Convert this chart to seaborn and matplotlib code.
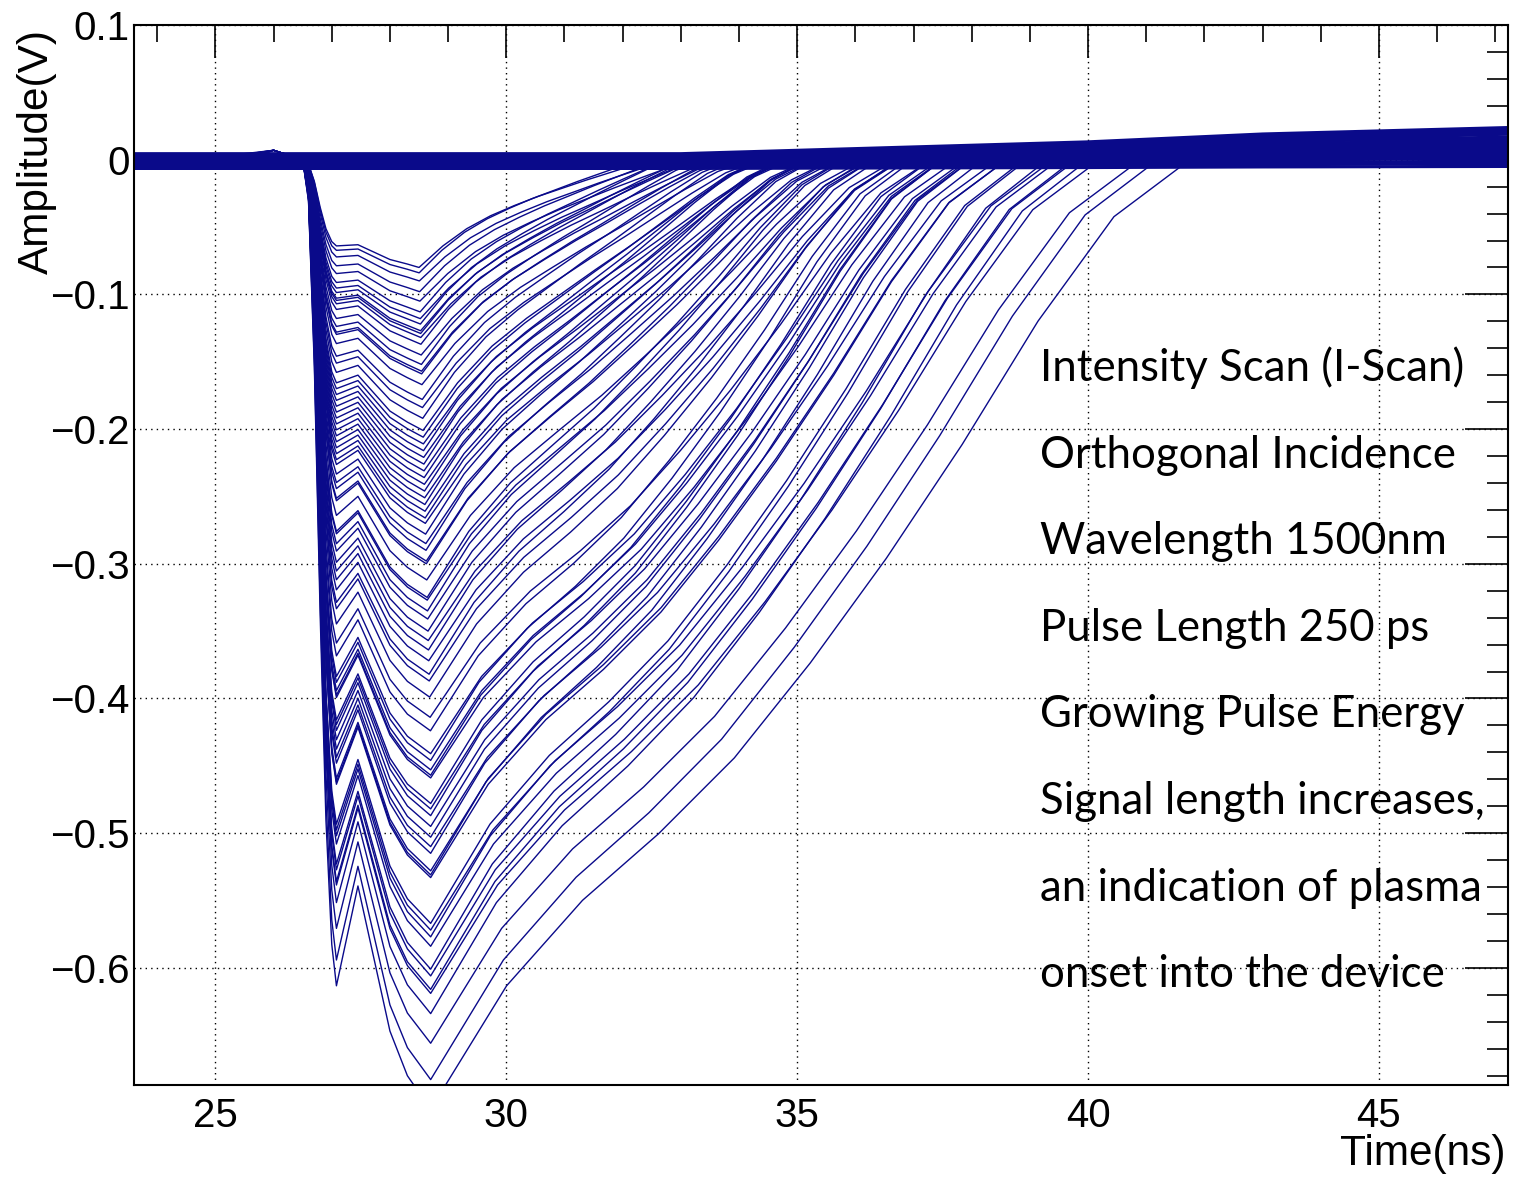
import numpy as np
import pandas as pd
import matplotlib
matplotlib.use("Agg")
import matplotlib.pyplot as plt
import seaborn as sns
from matplotlib.ticker import MultipleLocator

# ---- data --------------------------------------------------------------
# minimum amplitude (V) of each recorded waveform, near t = 28.7 ns
MIN_AMP = [
    -0.080, -0.084, -0.090, -0.098, -0.105, -0.113, -0.118, -0.122, -0.127, -0.129,
    -0.132, -0.137, -0.145, -0.152, -0.157, -0.159, -0.167, -0.178, -0.184, -0.192,
    -0.201, -0.206, -0.211, -0.216, -0.221, -0.226, -0.231, -0.236, -0.241, -0.246,
    -0.251, -0.256, -0.261, -0.266, -0.270, -0.278, -0.285, -0.290,
    -0.298, -0.300, -0.312, -0.325, -0.327, -0.335, -0.341, -0.350, -0.357, -0.364,
    -0.372, -0.382, -0.387, -0.399, -0.414, -0.424, -0.441, -0.446, -0.453, -0.457,
    -0.459, -0.478, -0.482, -0.487, -0.495, -0.503, -0.510, -0.515, -0.528, -0.531,
    -0.533, -0.567, -0.572, -0.577, -0.584, -0.601, -0.606, -0.616, -0.619, -0.634,
    -0.656, -0.683, -0.705,
]
# time (ns) at which each waveform returns to the baseline
END_TIME = [
    32.6, 32.4, 32.9, 32.8, 33.3, 32.9, 33.4, 32.9, 33.4, 33.2,
    33.7, 33.25, 33.8, 33.4, 33.85, 33.7, 34.2, 33.9, 34.35, 34.0,
    34.5, 34.4, 34.85, 34.4, 34.85, 34.4, 34.9, 34.75, 35.2, 34.8,
    35.25, 34.8, 35.3, 35.2, 35.6, 35.2, 35.7, 35.3,
    35.8, 35.6, 36.15, 35.8, 36.25, 35.85, 36.3, 36.2, 36.7, 36.3,
    36.8, 36.4, 36.8, 36.75, 37.3, 36.9, 37.45, 37.0, 37.5, 37.3,
    37.75, 37.5, 37.9, 37.5, 38.0, 37.95, 38.45, 38.0, 38.6, 38.2,
    38.6, 38.9, 39.4, 38.95, 39.5, 39.3, 39.8, 39.75, 40.2, 40.0,
    40.9, 41.2, 41.75,
]
# baseline levels before the pulse (V), cycled over the waveforms
PRE_A = [-0.004, 0.002, -0.001, 0.003, -0.003, 0.001, -0.005, 0.002, 0.000, -0.002]
PRE_B = [0.001, -0.003, 0.003, -0.006, 0.002, -0.001, -0.004, 0.000, -0.002, 0.002, -0.005]
PRE_C = [-0.002, 0.003, 0.000, -0.004, 0.007, -0.001, 0.002, -0.005, 0.001]
# baseline level reached at the right edge (V)
TAIL = [0.004, -0.002, 0.012, 0.020, 0.008, 0.016, -0.004, 0.022, 0.002, 0.010, 0.014, 0.006]
# waveforms without a pulse (baseline only)
FLAT_START = [-0.0065, -0.0058, -0.0050, -0.0043, -0.0036, -0.0028, -0.0021, -0.0014,
              -0.0006, 0.0001, 0.0008, 0.0016, 0.0023, 0.0030, 0.0038, 0.0045]
FLAT_END = [-0.0050, -0.0030, -0.0010, 0.0010, 0.0030, 0.0050, 0.0070, 0.0090,
            0.0110, 0.0130, 0.0150, 0.0170, 0.0190, 0.0210, 0.0225, 0.0240]

# common pulse shape
FRONT_T = [26.50, 26.60, 26.70, 26.80, 26.90, 27.00, 27.08]
FRONT_F = [0.0, 0.05, 0.25, 0.55, 0.80, 0.95, 1.0]
REC_FRAC = [0.0, 0.1, 0.2, 0.3, 0.4, 0.5, 0.6, 0.7, 0.8, 0.9, 1.0]
REC_SMALL = [1.0, 0.80, 0.64, 0.52, 0.425, 0.34, 0.265, 0.19, 0.12, 0.05, 0.0]
REC_LARGE = [1.0, 0.87, 0.78, 0.71, 0.63, 0.53, 0.42, 0.30, 0.17, 0.06, 0.0]
DRIFT_T = [23.5, 33.0, 40.0, 43.0, 47.3]
DRIFT_F = [0.0, 0.0, 0.45, 0.75, 1.0]

X_TICKS = [25, 30, 35, 40, 45]
X_TICK_LABELS = ["25", "30", "35", "40", "45"]
Y_TICKS = [0.1, 0.0, -0.1, -0.2, -0.3, -0.4, -0.5, -0.6]
Y_TICK_LABELS = ["0.1", "0", "\u22120.1", "\u22120.2", "\u22120.3", "\u22120.4", "\u22120.5", "\u22120.6"]

NOTES = [
    "Intensity Scan (I-Scan)",
    "Orthogonal Incidence",
    "Wavelength 1500nm",
    "Pulse Length 250 ps",
    "Growing Pulse Energy",
    "Signal length increases,",
    "an indication of plasma",
    "onset into the device",
]

# ---- build long table ----------------------------------------------------
rows = []
trace = 0
for i, (m, te) in enumerate(zip(MIN_AMP, END_TIME)):
    M = -m
    w = min(max((M - 0.08) / 0.35, 0.0), 1.0)
    d1 = M * (0.80 + 0.07 * w)
    b = d1 * (1 - 0.12 * M / 0.7)
    tm = 28.5 + 0.2 * w
    D = te - tm
    pts = [(23.5, PRE_A[i % len(PRE_A)]), (25.2, PRE_B[i % len(PRE_B)]),
           (26.0, PRE_C[i % len(PRE_C)])]
    pts += [(t, -d1 * f) for t, f in zip(FRONT_T, FRONT_F)]
    pts += [(27.45, -b), (28.0, -(b + 0.65 * (M - b))), (28.3, -(b + 0.85 * (M - b)))]
    for f, s, l in zip(REC_FRAC, REC_SMALL, REC_LARGE):
        pts.append((tm + D * f, -M * ((1 - w) * s + w * l)))
    pts.append((47.3, TAIL[i % len(TAIL)]))
    for t, v in pts:
        rows.append((trace, "pulse", t, v))
    trace += 1

for s0, e0 in zip(FLAT_START, FLAT_END):
    for t, f in zip(DRIFT_T, DRIFT_F):
        rows.append((trace, "flat", t, s0 + (e0 - s0) * f))
    trace += 1

df = pd.DataFrame(rows, columns=["trace", "kind", "time", "amp"])

# ---- plot ------------------------------------------------------------------
sns.set_theme(style="white")
plt.rcParams["font.family"] = ["Liberation Sans", "DejaVu Sans"]

NAVY = "#0a0a8a"
fig = plt.figure(figsize=(15.19, 11.81), dpi=100)
ax = fig.add_axes([0.0882, 0.0813, 0.9046, 0.8975])

ax.set_axisbelow(True)
ax.grid(True, which="major", color="black", linestyle=(0, (1, 3)), linewidth=1.0)

sns.lineplot(data=df[df["kind"] == "flat"], x="time", y="amp", units="trace",
             estimator=None, sort=False, color=NAVY, linewidth=2.2, legend=False, ax=ax)
sns.lineplot(data=df[df["kind"] == "pulse"], x="time", y="amp", units="trace",
             estimator=None, sort=False, color=NAVY, linewidth=1.0, legend=False, ax=ax)

ax.set_xlim(23.6, 47.22)
ax.set_ylim(-0.687, 0.1)
ax.set_xticks(X_TICKS)
ax.set_xticklabels(X_TICK_LABELS)
ax.set_yticks(Y_TICKS)
ax.set_yticklabels(Y_TICK_LABELS)
ax.xaxis.set_minor_locator(MultipleLocator(1))
ax.yaxis.set_minor_locator(MultipleLocator(0.02))

ax.tick_params(axis="both", which="both", direction="in", top=True, right=True,
               color="black", width=1.2, labelsize=29, labelcolor="black")
ax.tick_params(axis="x", which="major", length=24, pad=9)
ax.tick_params(axis="x", which="minor", length=12)
ax.tick_params(axis="y", which="major", length=31, pad=3)
ax.tick_params(axis="y", which="minor", length=15)

for sp in ax.spines.values():
    sp.set_color("black")
    sp.set_linewidth(1.5)
    sp.set_visible(True)

ax.set_xlabel("Time(ns)", loc="right", fontsize=30.5, color="black")
ax.xaxis.set_label_coords(0.998, -0.046)
ax.set_ylabel("Amplitude(V)", loc="top", fontsize=30.5, color="black")
ax.yaxis.set_label_coords(-0.056, 0.996)

for k, note in enumerate(NOTES):
    ybase = 381 + 86.6 * k
    fig.text(1040 / 1519, 1 - ybase / 1181, note, fontsize=31.5, family=["Lato", "DejaVu Sans"],
             ha="left", va="baseline", color="black")

fig.savefig("out.png", dpi=100, facecolor="white")
